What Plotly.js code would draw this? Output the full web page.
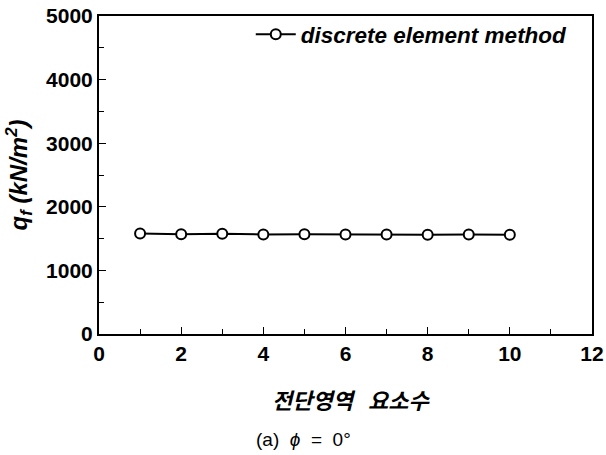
<!DOCTYPE html>
<html>
<head>
<meta charset="utf-8">
<script src="https://cdn.plot.ly/plotly-3.0.1.min.js"></script>
<style>html,body{margin:0;padding:0;background:#fff;}#chart{width:606px;height:455px;}</style>
</head>
<body>
<div id="chart"></div>
<script>
const elements = [1, 2, 3, 4, 5, 6, 7, 8, 9, 10];
const bearing = [1580, 1570, 1575, 1565, 1570, 1565, 1565, 1560, 1565, 1560];
const seriesName = 'discrete element method';
const xTitle = '전단영역   요소수';
const xTicks = [0, 2, 4, 6, 8, 10, 12];
const yTicks = [0, 1000, 2000, 3000, 4000, 5000];

const tickFont = {family: 'Liberation Sans, Arial, sans-serif', size: 21, color: '#000', weight: 'bold'};

const trace = {
  x: elements, y: bearing, name: seriesName, type: 'scatter', mode: 'lines+markers',
  line: {color: '#000', width: 2},
  marker: {symbol: 'circle', size: 10, color: '#fff', line: {color: '#000', width: 2}}
};

const layout = {
  width: 606, height: 455,
  margin: {l: 99, r: 14, t: 16, b: 121},
  paper_bgcolor: '#fff', plot_bgcolor: '#fff',
  showlegend: true,
  legend: {x: 0.961, y: 1.009, xanchor: 'right', yanchor: 'top',
    font: {family: 'Liberation Sans, Arial, sans-serif', size: 22.5, style: 'italic', weight: 'bold', color: '#000'},
    bgcolor: 'rgba(0,0,0,0)', itemwidth: 40},
  xaxis: {
    range: [0, 12], tickvals: xTicks, ticktext: xTicks.map(String),
    ticks: 'inside', ticklen: 7, tickwidth: 1, tickcolor: '#000',
    minor: {dtick: 1, tick0: 0, ticks: 'inside', ticklen: 5, tickcolor: '#000', showgrid: false},
    showline: true, linecolor: '#000', linewidth: 2, mirror: true,
    showgrid: false, zeroline: false, tickfont: tickFont
  },
  yaxis: {
    range: [0, 5000], tickvals: yTicks, ticktext: yTicks.map(String),
    ticks: 'inside', ticklen: 7, tickwidth: 1, tickcolor: '#000',
    minor: {dtick: 500, tick0: 0, ticks: 'inside', ticklen: 5, tickcolor: '#000', showgrid: false},
    showline: true, linecolor: '#000', linewidth: 2, mirror: true,
    showgrid: false, zeroline: false, tickfont: tickFont,
    title: {text: '<i>q<sub>f</sub> (kN/m<sup>2</sup>)</i>', font: {family: 'Liberation Sans, Arial, sans-serif', size: 24, weight: 'bold', color: '#000'}, standoff: 12}
  },
  annotations: [{
    xref: 'paper', yref: 'paper', x: 0.511, y: -0.204, xanchor: 'center', yanchor: 'middle',
    text: '<i>' + xTitle + '</i>', showarrow: false,
    font: {family: 'Noto Sans CJK KR, sans-serif', size: 22, weight: 'bold', color: '#000'}
  }, {
    xref: 'paper', yref: 'paper', x: 0.414, y: -0.333, xanchor: 'center', yanchor: 'middle',
    text: '(a)  <i>ϕ</i>  =  0°', showarrow: false,
    font: {family: 'Liberation Sans, Arial, sans-serif', size: 19, color: '#000'}
  }]
};

Plotly.newPlot('chart', [trace], layout, {displayModeBar: false, staticPlot: true});
</script>
</body>
</html>
